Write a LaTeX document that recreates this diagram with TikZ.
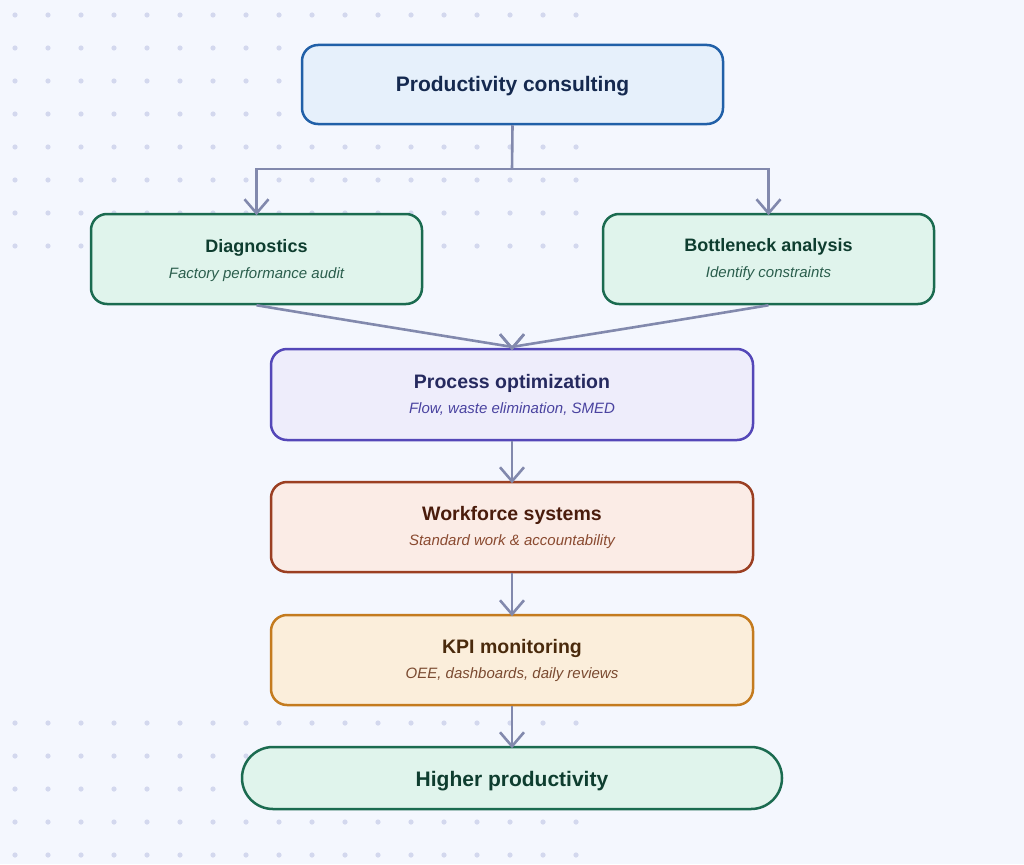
\documentclass[tikz,border=0pt]{standalone}
\usepackage{fontspec}
\setmainfont{Liberation Sans}
\usetikzlibrary{arrows.meta,calc}
\definecolor{bg}{HTML}{F4F7FE}
\definecolor{dotc}{HTML}{D3D8EE}
\definecolor{conn}{HTML}{8289AD}
\definecolor{blueF}{HTML}{E6F0FB}
\definecolor{blueD}{HTML}{2160A8}
\definecolor{blueT}{HTML}{15294F}
\definecolor{greenF}{HTML}{E0F4EC}
\definecolor{greenD}{HTML}{1B6B50}
\definecolor{greenT}{HTML}{0E3D2F}
\definecolor{greenS}{HTML}{2B5E4D}
\definecolor{purpF}{HTML}{EEEDFB}
\definecolor{purpD}{HTML}{5447B8}
\definecolor{purpT}{HTML}{262A5F}
\definecolor{purpS}{HTML}{4A43A0}
\definecolor{redF}{HTML}{FBECE6}
\definecolor{redD}{HTML}{9B3F22}
\definecolor{redT}{HTML}{4A1C0C}
\definecolor{redS}{HTML}{8A4A30}
\definecolor{orF}{HTML}{FBEEDB}
\definecolor{orD}{HTML}{C47B1F}
\definecolor{orT}{HTML}{4A2A0C}
\definecolor{orS}{HTML}{7A4A30}
\tikzset{
  box/.style={draw, line width=2.5pt, rounded corners=16pt, minimum height=90pt, inner sep=0pt},
  ttl/.style={anchor=base, inner sep=0pt, font=\fontsize{19.5}{22}\selectfont\bfseries},
  sttl/.style={anchor=base, inner sep=0pt, font=\fontsize{18}{22}\selectfont\bfseries},
  sub/.style={anchor=base, inner sep=0pt, font=\fontsize{15}{18}\selectfont\itshape},
  line/.style={draw=conn, line width=2.6pt},
  arr/.style={line, shorten >=-2.5pt, -{Straight Barb[length=14pt,width=24pt]}}
}
\begin{document}
\begin{tikzpicture}[x=1pt,y=-1pt]
\fill[bg] (0,0) rectangle (1024,864);
\useasboundingbox (0,0) rectangle (1024,864);
% dot patches
\foreach \i in {0,...,17}{
  \foreach \j in {0,...,7}{
    \fill[dotc] (15+33*\i,15+33*\j) circle (2.6pt);
  }
  \foreach \j in {0,...,4}{
    \fill[dotc] (15+33*\i,723+33*\j) circle (2.6pt);
  }
}
% boxes
\node[box, fill=blueF, draw=blueD, minimum width=421pt, minimum height=79pt] (top) at (512.5,84.5) {};
\node[box, fill=greenF, draw=greenD, minimum width=331pt] (diag) at (256.5,259) {};
\node[box, fill=greenF, draw=greenD, minimum width=331pt] (bott) at (768.5,259) {};
\node[box, fill=purpF, draw=purpD, minimum width=482pt, minimum height=91pt] (proc) at (512,394.5) {};
\node[box, fill=redF, draw=redD, minimum width=482pt] (work) at (512,527) {};
\node[box, fill=orF, draw=orD, minimum width=482pt] (kpi) at (512,660) {};
\node[box, fill=greenF, draw=greenD, minimum width=540pt, minimum height=62pt, rounded corners=31pt] (high) at (512,778) {};
% texts
\node[ttl, text=blueT, font=\fontsize{21}{24}\selectfont\bfseries] (topT) at (512.5,92) {Productivity consulting};
\node[sttl, text=greenT] (diagT) at (256.5,252) {Diagnostics};
\node[sub, text=greenS] (diagS) at (256.5,278) {Factory performance audit};
\node[sttl, text=greenT] (bottT) at (768.5,251) {Bottleneck analysis};
\node[sub, text=greenS] (bottS) at (768.5,277) {Identify constraints};
\node[ttl, text=purpT] (procT) at (512,388) {Process optimization};
\node[sub, text=purpS] (procS) at (512,413) {Flow, waste elimination, SMED};
\node[ttl, text=redT] (workT) at (512,520) {Workforce systems};
\node[sub, text=redS] (workS) at (512,545) {Standard work \& accountability};
\node[ttl, text=orT] (kpiT) at (512,653) {KPI monitoring};
\node[sub, text=orS] (kpiS) at (512,678) {OEE, dashboards, daily reviews};
\node[ttl, text=greenT, font=\fontsize{21}{24}\selectfont\bfseries] (highT) at (512,786) {Higher productivity};
% connectors
\coordinate (split) at (512,169);
\draw[line] (top.south) -- (split);
\draw[arr] (split) -| (diag.north);
\draw[arr] (split) -| (bott.north);
\draw[arr] (diag.south) .. controls ($(diag.south)!0.5!(proc.north)$) and ([yshift=1pt]proc.north) .. (proc.north);
\draw[arr] (bott.south) .. controls ($(bott.south)!0.5!(proc.north)$) and ([yshift=1pt]proc.north) .. (proc.north);
\draw[arr] (proc.south) -- (work.north);
\draw[arr] (work.south) -- (kpi.north);
\draw[arr] (kpi.south) -- (high.north);
\end{tikzpicture}
\end{document}
